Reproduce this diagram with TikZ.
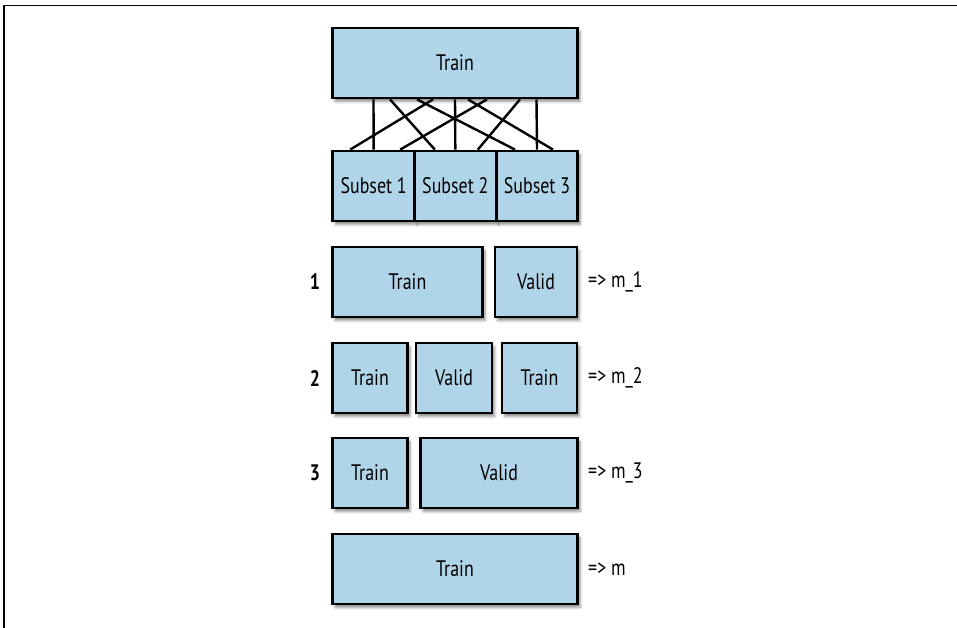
\documentclass[tikz,border=0pt]{standalone}
\usepackage{fontspec}
\setmainfont{PT Sans}[FakeStretch=0.8]
\usetikzlibrary{shadows.blur,calc}
\definecolor{boxblue}{RGB}{176,212,232}
\tikzset{
  box/.style={draw=black, line width=2.8bp, fill=boxblue, minimum height=70bp,
    inner sep=0pt, font=\fontsize{22.5}{26}\selectfont,
    blur shadow={shadow xshift=2.5bp, shadow yshift=-3.5bp,
      shadow blur radius=2.5bp, shadow opacity=45}},
  rowlabel/.style={font=\fontsize{22.5}{26}\selectfont\bfseries, inner sep=0pt},
  result/.style={font=\fontsize{22.5}{26}\selectfont, anchor=west, inner sep=0pt},
  link/.style={line width=2.4bp},
}
\begin{document}
\begin{tikzpicture}[x=1bp, y=-1bp]
  \useasboundingbox (0,0) rectangle (957,628);
  % frame
  \draw[line width=1.2bp] (4,628) -- (4,5.5) -- (957,5.5);

  % full training set and its three subsets
  \node[box, minimum width=245bp] (top) at (455,63) {Train};
  \node[box, minimum width=81.67bp] (s1) at (373.67,186) {Subset 1};
  \node[box, minimum width=81.67bp] (s2) at (455.33,186) {Subset 2};
  \node[box, minimum width=81.67bp] (s3) at (537,186) {Subset 3};

  % shuffle links
  \draw[link] ([xshift=-81.5bp]top.south) -- (s1.north);
  \draw[link] (top.south) -- (s2.north);
  \draw[link] ([xshift=81.5bp]top.south) -- (s3.north);
  \draw[link] ([xshift=-22bp]top.south) -- ([xshift=-23.5bp]s1.north);
  \draw[link] ([xshift=32bp]top.south) -- ([xshift=26.5bp]s1.north);
  \draw[link] ([xshift=65bp]top.south) -- ([xshift=22.5bp]s2.north);
  \draw[link] ([xshift=-65bp]top.south) -- ([xshift=-20.5bp]s2.north);
  \draw[link] ([xshift=-38bp]top.south) -- ([xshift=-22bp]s3.north);
  \draw[link] ([xshift=13bp]top.south) -- ([xshift=16bp]s3.north);

  % fold 1
  \node[rowlabel] (l1) at (315,282) {1};
  \node[box, minimum width=150bp] (r1a) at (407.5,282) {Train};
  \node[box, minimum width=82bp] (r1b) at (536,282) {Valid};
  \node[result] (m1) at (588,282) {=> m\_1};

  % fold 2
  \node[rowlabel] (l2) at (315,378) {2};
  \node[box, minimum width=75bp] (r2a) at (370,378) {Train};
  \node[box, minimum width=76bp] (r2b) at (454,378) {Valid};
  \node[box, minimum width=75bp] (r2c) at (539.5,378) {Train};
  \node[result] (m2) at (588,378) {=> m\_2};

  % fold 3
  \node[rowlabel] (l3) at (315,473) {3};
  \node[box, minimum width=75bp] (r3a) at (370,473) {Train};
  \node[box, minimum width=157bp] (r3b) at (499,473) {Valid};
  \node[result] (m3) at (588,473) {=> m\_3};

  % final model on all data
  \node[box, minimum width=245bp] (r4) at (455,569) {Train};
  \node[result] (m) at (588,569) {=> m};
\end{tikzpicture}
\end{document}
